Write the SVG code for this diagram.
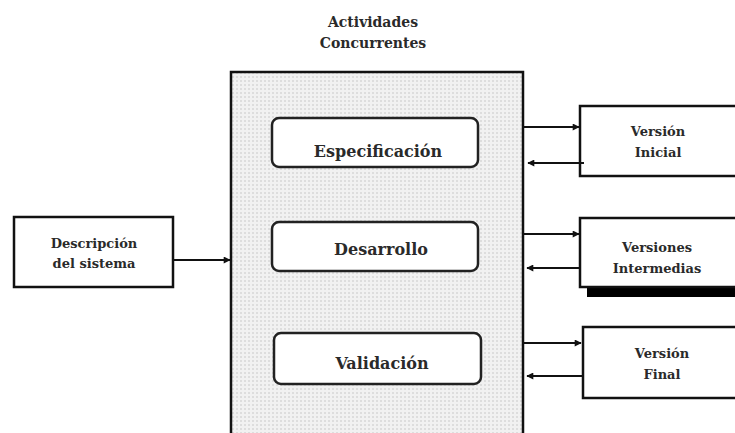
<svg xmlns="http://www.w3.org/2000/svg" width="735" height="433" viewBox="0 0 735 433">
  <style>
    .lbl { font-family: 'DejaVu Serif', 'Liberation Serif', serif; font-weight: bold; fill: #2a2a2a; text-anchor: middle; }
    .big { font-size: 16px; }
    .sm { font-size: 13px; }
    .ttl { font-size: 14px; }
    .box { fill: #fff; stroke: #111; stroke-width: 2.5; }
    .act { fill: #fff; stroke: #222; stroke-width: 2.5; }
    .con { stroke: #111; stroke-width: 2; fill: none; }
  </style>
  <defs>
    <pattern id="dots" width="4" height="4" patternUnits="userSpaceOnUse">
      <rect width="4" height="4" fill="#f1f1f1"/>
      <circle cx="1" cy="1" r="0.8" fill="#c4c4c4"/>
    </pattern>
    <marker id="ah" viewBox="0 0 10 10" refX="9" refY="5" markerWidth="10" markerHeight="7" markerUnits="userSpaceOnUse" orient="auto">
      <path d="M0,0 L10,5 L0,10 z" fill="#111"/>
    </marker>
  </defs>

  <rect width="735" height="433" fill="#fff"/>

  <!-- title -->
  <text class="lbl ttl" x="373" y="27">Actividades</text>
  <text class="lbl ttl" x="373" y="48">Concurrentes</text>

  <!-- concurrent activities container -->
  <g id="actividades">
    <rect x="231" y="72" width="292" height="380" fill="url(#dots)" stroke="#111" stroke-width="2.5"/>
  </g>

  <g id="especificacion">
    <rect class="act" x="272" y="118" width="206" height="49" rx="7"/>
    <text class="lbl big" x="378" y="157">Especificación</text>
  </g>
  <g id="desarrollo">
    <rect class="act" x="272" y="222" width="206" height="49" rx="7"/>
    <text class="lbl big" x="381" y="255">Desarrollo</text>
  </g>
  <g id="validacion">
    <rect class="act" x="274" y="333" width="207" height="51" rx="7"/>
    <text class="lbl big" x="382" y="369">Validación</text>
  </g>

  <g id="descripcion">
    <rect class="box" x="14" y="217" width="159" height="70"/>
    <text class="lbl sm" x="94" y="248">Descripción</text>
    <text class="lbl sm" x="94" y="268">del sistema</text>
  </g>

  <g id="version-inicial">
    <rect class="box" x="580" y="106" width="170" height="70"/>
    <text class="lbl sm" x="658" y="136">Versión</text>
    <text class="lbl sm" x="658" y="157">Inicial</text>
  </g>
  <g id="versiones-intermedias">
    <rect x="587" y="287" width="160" height="10" fill="#000"/>
    <rect class="box" x="580" y="218" width="170" height="69"/>
    <text class="lbl sm" x="657" y="252">Versiones</text>
    <text class="lbl sm" x="657" y="273">Intermedias</text>
  </g>
  <g id="version-final">
    <rect class="box" x="583" y="327" width="170" height="71"/>
    <text class="lbl sm" x="662" y="358">Versión</text>
    <text class="lbl sm" x="662" y="379">Final</text>
  </g>

  <g id="connectors">
    <line class="con" x1="173" y1="260" x2="230" y2="260" marker-end="url(#ah)"/>
    <line class="con" x1="523" y1="127" x2="579" y2="127" marker-end="url(#ah)"/>
    <line class="con" x1="584" y1="163" x2="528" y2="163" marker-end="url(#ah)"/>
    <line class="con" x1="523" y1="234" x2="579" y2="234" marker-end="url(#ah)"/>
    <line class="con" x1="580" y1="268" x2="527" y2="268" marker-end="url(#ah)"/>
    <line class="con" x1="523" y1="343" x2="581" y2="343" marker-end="url(#ah)"/>
    <line class="con" x1="583" y1="376" x2="527" y2="376" marker-end="url(#ah)"/>
  </g>
</svg>
